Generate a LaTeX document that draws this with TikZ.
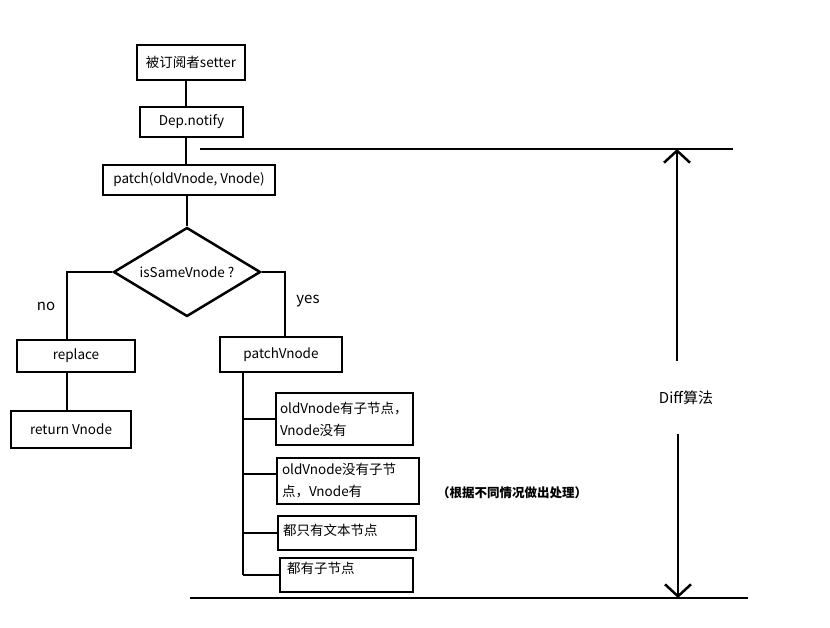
\documentclass[tikz,border=0pt]{standalone}
\usepackage{fontspec}
\setmainfont{Noto Sans CJK SC}
\usetikzlibrary{arrows.meta, shapes.geometric, positioning}

\begin{document}
\begin{tikzpicture}[x=1pt, y=-1pt, line width=2.5pt,
  box/.style={draw, rectangle, line width=2.8pt, inner sep=3pt, font=\fontsize{13.5}{17}\selectfont},
  twoline/.style={box, align=left, inner xsep=4pt, font=\fontsize{13.5}{22}\selectfont},
  tag/.style={font=\fontsize{15}{18}\selectfont},
  dim/.style={-{Straight Barb[length=12pt, width=26pt]}}]
\useasboundingbox (0,0) rectangle (830,627);

\node[box, minimum width=108pt, minimum height=35pt] (setter) at (191,62.5) {被订阅者setter};
\node[box, minimum width=103pt, minimum height=30pt] (dep) at (191.5,122) {Dep.notify};
\node[box, minimum width=172pt, minimum height=30pt] (patch) at (189,180) {patch(oldVnode, Vnode)};
\node[draw, diamond, aspect=1.65, minimum width=147pt, minimum height=89pt, inner sep=0pt,
  font=\fontsize{13.5}{17}\selectfont] (same) at (187,272) {isSameVnode ?};

\node[box, minimum width=118pt, minimum height=32pt] (replace) at (76,356) {replace};
\node[box, minimum width=120pt, minimum height=37pt] (ret) at (71,429.5) {return Vnode};
\node[tag] (no) at (46,306) {no};
\node[tag] (yes) at (308,301) {yes};

\node[box, minimum width=122pt, minimum height=35pt] (pv) at (281,354.5) {patchVnode};
\node[twoline, text width=129pt, minimum height=52pt] (c1) at (344.5,419) {oldVnode有子节点，\\Vnode没有};
\node[twoline, text width=132pt, inner xsep=5pt, minimum height=46pt] (c2) at (348,481) {oldVnode没有子节\\点，Vnode有};
\node[box, align=left, text width=128pt, inner xsep=5pt, minimum height=34pt, text depth=7pt] (c3) at (347,533) {都只有文本节点};
\node[box, align=left, text width=119pt, inner xsep=7pt, minimum height=34pt, text depth=15pt] (c4) at (346.5,575) {都有子节点};
\node[font=\fontsize{12.5}{15}\selectfont\bfseries] (note) at (512,493) {（根据不同情况做出处理）};

\node[tag, minimum height=71pt] (diff) at (686,397.5) {Diff算法};

\coordinate (spine) at ([xshift=-5pt]setter.south);
\draw (spine) -- (spine |- dep.north);
\draw (spine |- dep.south) -- (spine |- patch.north);
\draw (same.north |- patch.south) -- (same.north);

\coordinate (nobend) at (67,272);
\draw (same.west) -- (nobend) -- (nobend |- replace.north);
\draw (nobend |- replace.south) -- (nobend |- ret.north);
\draw (same.east) -| ([xshift=4pt]pv.north);

\coordinate (trunk) at ([xshift=-38pt]pv.south);
\coordinate (c2in) at ([yshift=7pt]c2.west);
\draw (trunk) -- (trunk |- c4.west);
\foreach \c in {c1,c2in,c3,c4}
  \draw (trunk |- \c) -- (\c);

\coordinate (ltop) at (200,149);
\coordinate (rtop) at (733,149);
\coordinate (dtop) at (677,149);
\coordinate (lbot) at (190,598);
\coordinate (rbot) at (748,598);
\coordinate (dbot) at (678,598);
\draw (ltop) -- (rtop);
\draw (lbot) -- (rbot);
\draw[dim] (diff.north -| dtop) -- (dtop);
\draw[dim] (diff.south -| dbot) -- (dbot);
\end{tikzpicture}
\end{document}
